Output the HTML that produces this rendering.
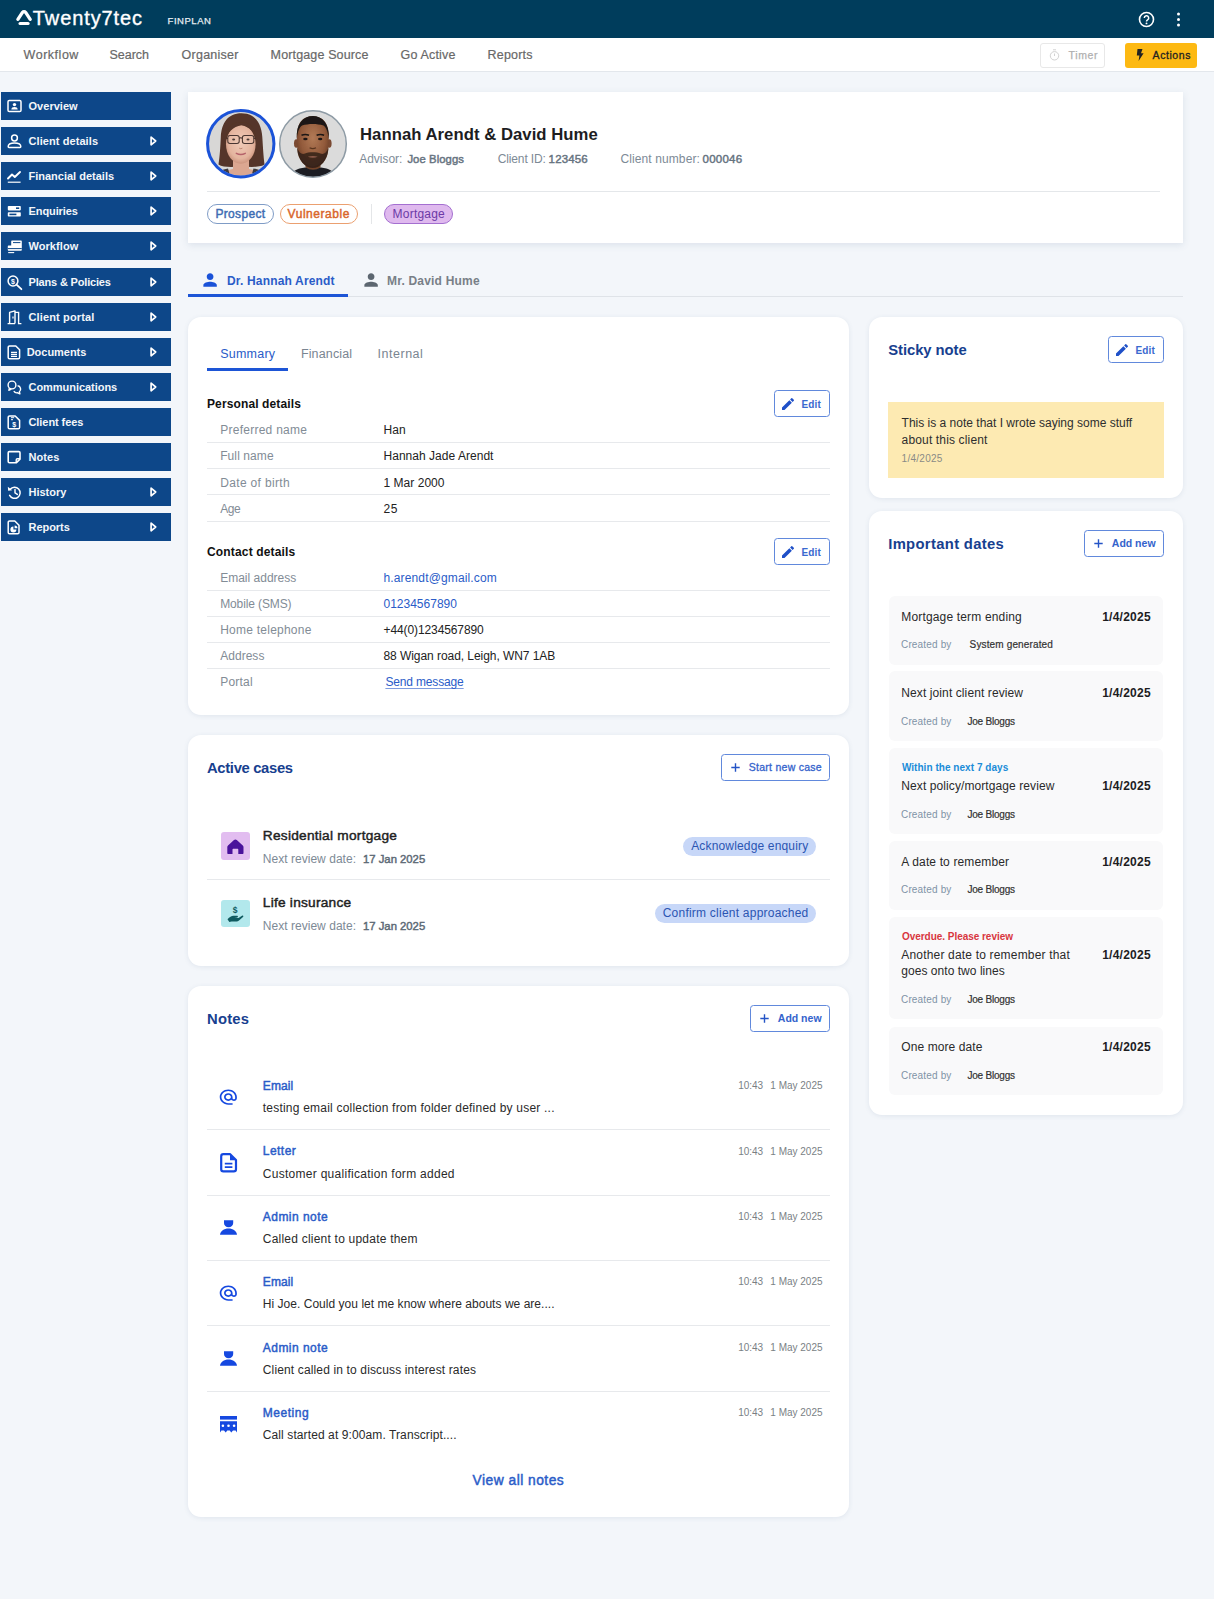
<!DOCTYPE html>
<html lang="en">
<head>
<meta charset="utf-8">
<title>Client overview</title>
<style>
*{box-sizing:border-box;margin:0;padding:0}
html,body{width:1214px;height:1599px;overflow:hidden}
body{background:#f3f6fa;font-family:"Liberation Sans",sans-serif;color:#222;position:relative;font-size:12px}
.t{position:absolute;white-space:nowrap;line-height:1}
svg{display:block;overflow:visible;position:absolute}
.bx{position:absolute}
#top{position:absolute;left:0;top:0;width:1214px;height:38px;background:#003d5c}
#nav{position:absolute;left:0;top:38px;width:1214px;height:34px;background:#fff;border-bottom:1px solid #e3e7ec}
.sb{position:absolute;left:1px;width:170px;height:28px;background:#0d4789}
.card{position:absolute;background:#fff;border-radius:13px;box-shadow:0 1px 5px rgba(60,90,130,.10)}
.btn{position:absolute;border:1.2px solid #6189dc;border-radius:3.5px;background:#fff;height:27px}
.hr{position:absolute;height:1px;background:#e7e9ec}
.pill{position:absolute;border-radius:10px;height:19.5px}
.dbox{position:absolute;left:889px;width:274px;background:#f9f9fa;border-radius:6px}
</style>
</head>
<body>
<header>
<div id="top">
<svg style="left:16px;top:10px" width="16" height="15" viewBox="0 0 16 15"><path d="M1.900 9.300L6.300 2.600Q8.050 .7 9.800 2.600L14.200 9.300" fill="none" stroke="#fff" stroke-width="3.300" stroke-linecap="round" stroke-linejoin="round"/><path d="M4 13.400H12.100" stroke="#fff" stroke-width="3" stroke-linecap="round"/></svg>
<span class="t" style="left:32.8px;top:8.02px;font-size:20px;color:#fff;letter-spacing:0.9px;-webkit-text-stroke:.35px">Twenty7tec</span>
<span class="t" style="left:167.6px;top:16.02px;font-size:9.5px;color:#e6edf2;letter-spacing:0.53px;-webkit-text-stroke:.25px">FINPLAN</span>
<svg style="left:1138px;top:11px" width="17" height="17" viewBox="0 0 17 17"><circle cx="8.500" cy="8.500" r="7" fill="none" stroke="#fff" stroke-width="1.600"/><path d="M6.300 6.900 a2.200 2.200 0 1 1 3.300 1.900 c-.8.500-1.100.9-1.100 1.700" fill="none" stroke="#fff" stroke-width="1.500"/><circle cx="8.500" cy="12.400" r=".950" fill="#fff"/></svg>
<svg style="left:1176px;top:12px" width="5" height="15" viewBox="0 0 5 15"><circle cx="2.500" cy="2" r="1.500" fill="#fff"/><circle cx="2.500" cy="7.500" r="1.500" fill="#fff"/><circle cx="2.500" cy="13" r="1.500" fill="#fff"/></svg>
</div>
</header>
<nav>
<div id="nav"></div>
<span class="t" style="left:23.6px;top:49.02px;font-size:12.5px;color:#686868;letter-spacing:0.52px;-webkit-text-stroke:.2px">Workflow</span>
<span class="t" style="left:109.6px;top:49.02px;font-size:12.5px;color:#686868;letter-spacing:-0.06px;-webkit-text-stroke:.2px">Search</span>
<span class="t" style="left:181.6px;top:49.02px;font-size:12.5px;color:#686868;letter-spacing:0.24px;-webkit-text-stroke:.2px">Organiser</span>
<span class="t" style="left:270.6px;top:49.02px;font-size:12.5px;color:#686868;letter-spacing:0.14px;-webkit-text-stroke:.2px">Mortgage Source</span>
<span class="t" style="left:400.6px;top:49.02px;font-size:12.5px;color:#686868;letter-spacing:0.16px;-webkit-text-stroke:.2px">Go Active</span>
<span class="t" style="left:487.6px;top:49.02px;font-size:12.5px;color:#686868;letter-spacing:0.17px;-webkit-text-stroke:.2px">Reports</span>
<div class="bx" style="left:1040px;top:43px;width:65px;height:25px;border:1px solid #e8e8e8;border-radius:3px;background:#fff"></div>
<svg style="left:1049px;top:49px" width="11" height="12" viewBox="0 0 11 12"><circle cx="5.500" cy="6.800" r="4.200" fill="none" stroke="#d2d2d2" stroke-width="1"/><path d="M4 .8h3M5.500 4.500v2.500" stroke="#d2d2d2" stroke-width="1" fill="none"/></svg>
<span class="t" style="left:1068.6px;top:50.02px;font-size:10.5px;color:#b0b0b0;letter-spacing:0.59px;-webkit-text-stroke:.25px">Timer</span>
<div class="bx" style="left:1125px;top:43px;width:72px;height:25px;border-radius:3px;background:#fdb913"></div>
<svg style="left:1136px;top:49px" width="8" height="12" viewBox="0 0 8 12"><path d="M1.500 0H6.500L5 4.300H7.600L2.600 12L3.400 6.600H.8Z" fill="#222"/></svg>
<span class="t" style="left:1152.6px;top:50.02px;font-size:10.5px;color:#222;letter-spacing:0.56px;-webkit-text-stroke:.3px">Actions</span>
</nav>
<aside>
<div class="sb" style="top:92px"><svg style="left:6px;top:6.500px" width="15" height="15" viewBox="0 0 15 15"><rect x="1" y="1.5" width="13" height="11" rx="1.3" fill="none" stroke="#fff" stroke-width="1.5"/><circle cx="7.5" cy="5.6" r="1.7" fill="#fff"/><path d="M4.3 10.6c0-1.9 1.4-2.6 3.2-2.6s3.2.7 3.2 2.6z" fill="#fff"/></svg>
</div>
<span class="t" style="left:28.5px;top:101.02px;font-size:11px;color:#f3f6fa;font-weight:bold;letter-spacing:0.03px">Overview</span>
<div class="sb" style="top:127px"><svg style="left:6px;top:6.500px" width="15" height="15" viewBox="0 0 15 15"><circle cx="7.5" cy="4" r="2.9" fill="none" stroke="#fff" stroke-width="1.5"/><path d="M1.2 12.6c0-2.6 2.6-3.6 6.3-3.6s6.3 1 6.3 3.6c0 .5-.3.8-.8.8H2c-.5 0-.8-.3-.8-.8z" fill="none" stroke="#fff" stroke-width="1.5"/></svg>
<svg style="left:148.500px;top:9px" width="7" height="10" viewBox="0 0 7 10"><path d="M1.100 1.200L5.700 5L1.100 8.800Z" fill="none" stroke="#fff" stroke-width="1.700" stroke-linejoin="round"/></svg>
</div>
<span class="t" style="left:28.5px;top:136.02px;font-size:11px;color:#f3f6fa;font-weight:bold;letter-spacing:0.08px">Client details</span>
<div class="sb" style="top:162px"><svg style="left:6px;top:6.500px" width="15" height="15" viewBox="0 0 15 15"><path d="M1 9.5L5 5.5L7.8 8L13 3" fill="none" stroke="#fff" stroke-width="1.9" stroke-linejoin="round" stroke-linecap="round"/><path d="M.8 13.2H13.6" stroke="#fff" stroke-width="1.2"/></svg>
<svg style="left:148.500px;top:9px" width="7" height="10" viewBox="0 0 7 10"><path d="M1.100 1.200L5.700 5L1.100 8.800Z" fill="none" stroke="#fff" stroke-width="1.700" stroke-linejoin="round"/></svg>
</div>
<span class="t" style="left:28.5px;top:171.02px;font-size:11px;color:#f3f6fa;font-weight:bold">Financial details</span>
<div class="sb" style="top:197px"><svg style="left:6px;top:6.500px" width="15" height="15" viewBox="0 0 15 15"><rect x=".8" y="2" width="13" height="4.4" rx=".8" fill="#fff"/><rect x=".8" y="8.2" width="13" height="4.4" rx=".8" fill="#fff"/><rect x="9" y="3.4" width="3.2" height="1.6" fill="#0d4789"/><rect x="2.4" y="9.6" width="7" height="1.6" fill="#0d4789"/></svg>
<svg style="left:148.500px;top:9px" width="7" height="10" viewBox="0 0 7 10"><path d="M1.100 1.200L5.700 5L1.100 8.800Z" fill="none" stroke="#fff" stroke-width="1.700" stroke-linejoin="round"/></svg>
</div>
<span class="t" style="left:28.5px;top:206.02px;font-size:11px;color:#f3f6fa;font-weight:bold;letter-spacing:-0.09px">Enquiries</span>
<div class="sb" style="top:232px"><svg style="left:6px;top:6.500px" width="15" height="15" viewBox="0 0 15 15"><path d="M5.2 1.6h8.6c.6 0 1 .4 1 1v8.2c0 .6-.4 1-1 1H1.8c-.6 0-1-.4-1-1V7.4c0-.6.4-1 1-1h2.4V2.6c0-.6.4-1 1-1z" fill="#fff"/><path d="M6 3.6h7.4M.8 9.6h14" stroke="#0d4789" stroke-width="1"/><path d="M1.2 13.6h6" stroke="#fff" stroke-width="1.1"/></svg>
<svg style="left:148.500px;top:9px" width="7" height="10" viewBox="0 0 7 10"><path d="M1.100 1.200L5.700 5L1.100 8.800Z" fill="none" stroke="#fff" stroke-width="1.700" stroke-linejoin="round"/></svg>
</div>
<span class="t" style="left:28.5px;top:241.02px;font-size:11px;color:#f3f6fa;font-weight:bold;letter-spacing:0.06px">Workflow</span>
<div class="sb" style="top:268px"><svg style="left:6px;top:6.500px" width="15" height="15" viewBox="0 0 15 15"><circle cx="6" cy="6" r="4.9" fill="none" stroke="#fff" stroke-width="1.5"/><path d="M9.8 9.8L14.4 14.2" stroke="#fff" stroke-width="1.8" stroke-linecap="round"/><text x="6" y="8.6" font-size="7" font-weight="bold" fill="#fff" text-anchor="middle" font-family="Liberation Sans, sans-serif">$</text></svg>
<svg style="left:148.500px;top:9px" width="7" height="10" viewBox="0 0 7 10"><path d="M1.100 1.200L5.700 5L1.100 8.800Z" fill="none" stroke="#fff" stroke-width="1.700" stroke-linejoin="round"/></svg>
</div>
<span class="t" style="left:28.5px;top:277.02px;font-size:11px;color:#f3f6fa;font-weight:bold;letter-spacing:-0.17px">Plans &amp; Policies</span>
<div class="sb" style="top:303px"><svg style="left:6px;top:6.500px" width="15" height="15" viewBox="0 0 15 15"><path d="M2.6 13.6V2.4L8 .9V13.6" fill="none" stroke="#fff" stroke-width="1.4" stroke-linejoin="round"/><path d="M8 2.4h3.6V13.6h2.8M.6 13.6H8" fill="none" stroke="#fff" stroke-width="1.4"/><path d="M6 6.6v2" stroke="#fff" stroke-width="1.2"/></svg>
<svg style="left:148.500px;top:9px" width="7" height="10" viewBox="0 0 7 10"><path d="M1.100 1.200L5.700 5L1.100 8.800Z" fill="none" stroke="#fff" stroke-width="1.700" stroke-linejoin="round"/></svg>
</div>
<span class="t" style="left:28.5px;top:312.02px;font-size:11px;color:#f3f6fa;font-weight:bold;letter-spacing:0.14px">Client portal</span>
<div class="sb" style="top:338px"><svg style="left:6px;top:6.500px" width="15" height="15" viewBox="0 0 15 15"><path d="M2.6 1h6.2l3.8 3.8v7.6c0 .8-.6 1.4-1.4 1.4H2.6c-.8 0-1.4-.6-1.4-1.4V2.4C1.2 1.600 1.800 1 2.600 1z" fill="none" stroke="#fff" stroke-width="1.5" stroke-linejoin="round"/><path d="M4 7.400h6M4 9.400h6M4 11.300h6" stroke="#fff" stroke-width="1.2"/></svg>
<svg style="left:148.500px;top:9px" width="7" height="10" viewBox="0 0 7 10"><path d="M1.100 1.200L5.700 5L1.100 8.800Z" fill="none" stroke="#fff" stroke-width="1.700" stroke-linejoin="round"/></svg>
</div>
<span class="t" style="left:26.7px;top:347.02px;font-size:11px;color:#f3f6fa;font-weight:bold;letter-spacing:-0.03px">Documents</span>
<div class="sb" style="top:373px"><svg style="left:6px;top:6.500px" width="15" height="15" viewBox="0 0 15 15"><circle cx="5" cy="5" r="3.9" fill="none" stroke="#fff" stroke-width="1.4"/><path d="M2.400 8l-.6 2.400 2.600-1.200" fill="none" stroke="#fff" stroke-width="1.200" stroke-linejoin="round"/><path d="M10.600 5.800a3.400 3.400 0 0 1 1.800 6l.5 2.100-2.300-1.100a3.600 3.600 0 0 1-3.800-1.600" fill="none" stroke="#fff" stroke-width="1.4" stroke-linejoin="round"/></svg>
<svg style="left:148.500px;top:9px" width="7" height="10" viewBox="0 0 7 10"><path d="M1.100 1.200L5.700 5L1.100 8.800Z" fill="none" stroke="#fff" stroke-width="1.700" stroke-linejoin="round"/></svg>
</div>
<span class="t" style="left:28.5px;top:382.02px;font-size:11px;color:#f3f6fa;font-weight:bold;letter-spacing:-0.04px">Communications</span>
<div class="sb" style="top:408px"><svg style="left:6px;top:6.500px" width="15" height="15" viewBox="0 0 15 15"><path d="M2.600 1h5.600l4.400 4.400v7c0 .8-.6 1.4-1.4 1.400H2.600c-.8 0-1.400-.6-1.400-1.400V2.400C1.200 1.600 1.800 1 2.600 1z" fill="none" stroke="#fff" stroke-width="1.500" stroke-linejoin="round"/><path d="M4 2.700h3.200M4 4.700h2" stroke="#fff" stroke-width="1"/><text x="7.200" y="12" font-size="7" font-weight="bold" fill="#fff" text-anchor="middle" font-family="Liberation Sans, sans-serif">$</text></svg>
</div>
<span class="t" style="left:28.5px;top:417.02px;font-size:11px;color:#f3f6fa;font-weight:bold;letter-spacing:-0.07px">Client fees</span>
<div class="sb" style="top:443px"><svg style="left:6px;top:6.500px" width="15" height="15" viewBox="0 0 15 15"><path d="M2.400 1.600h9.400c.7 0 1.200.5 1.200 1.200v6.400l-3.800 3.600H2.400c-.7 0-1.200-.5-1.200-1.200V2.800c0-.7.5-1.200 1.200-1.200z" fill="none" stroke="#fff" stroke-width="1.600" stroke-linejoin="round"/><path d="M13 8.800H10.400c-.7 0-1.200.5-1.200 1.200v2.800" fill="none" stroke="#fff" stroke-width="1.400"/></svg>
</div>
<span class="t" style="left:28.5px;top:452.02px;font-size:11px;color:#f3f6fa;font-weight:bold;letter-spacing:0.08px">Notes</span>
<div class="sb" style="top:478px"><svg style="left:6px;top:6.500px" width="15" height="15" viewBox="0 0 15 15"><path d="M3.200 4.200A5.600 5.600 0 1 1 2.600 10.400" fill="none" stroke="#fff" stroke-width="1.500" stroke-linecap="round"/><path d="M.8 1.800L1.200 5.800L5.200 5.200Z" fill="#fff"/><path d="M8 4.400V7.800L10.400 9.400" fill="none" stroke="#fff" stroke-width="1.400" stroke-linecap="round"/></svg>
<svg style="left:148.500px;top:9px" width="7" height="10" viewBox="0 0 7 10"><path d="M1.100 1.200L5.700 5L1.100 8.800Z" fill="none" stroke="#fff" stroke-width="1.700" stroke-linejoin="round"/></svg>
</div>
<span class="t" style="left:28.5px;top:487.02px;font-size:11px;color:#f3f6fa;font-weight:bold">History</span>
<div class="sb" style="top:513px"><svg style="left:6px;top:6.500px" width="15" height="15" viewBox="0 0 15 15"><path d="M2.600 1h5.200l4.200 4.200v7.200c0 .8-.6 1.400-1.400 1.400H2.600c-.8 0-1.400-.6-1.400-1.400V2.400C1.200 1.600 1.800 1 2.600 1z" fill="none" stroke="#fff" stroke-width="1.500" stroke-linejoin="round"/><path d="M6.400 6.400a3 3 0 1 0 3 3h-3z" fill="#fff"/><path d="M7.600 5.400a2.800 2.800 0 0 1 2.800 2.800H7.600z" fill="#fff"/></svg>
<svg style="left:148.500px;top:9px" width="7" height="10" viewBox="0 0 7 10"><path d="M1.100 1.200L5.700 5L1.100 8.800Z" fill="none" stroke="#fff" stroke-width="1.700" stroke-linejoin="round"/></svg>
</div>
<span class="t" style="left:28.5px;top:522.02px;font-size:11px;color:#f3f6fa;font-weight:bold;letter-spacing:-0.04px">Reports</span>
</aside>
<main>
<section>
<div class="bx" style="left:188px;top:92px;width:995px;height:151px;background:#fff;box-shadow:0 2px 7px rgba(60,90,130,.13)"></div>
<svg style="left:205.800px;top:109.300px" width="69.500" height="69.500" viewBox="0 0 69.500 69.500">
<defs><clipPath id="cp1"><circle cx="34.750" cy="34.750" r="32"/></clipPath>
<radialGradient id="sk1" cx=".5" cy=".45" r=".6"><stop offset="0" stop-color="#f1cbb8"/><stop offset=".7" stop-color="#e4b49e"/><stop offset="1" stop-color="#c48a74"/></radialGradient></defs>
<circle cx="34.750" cy="34.750" r="33" fill="#d8d7d6"/>
<filter id="bl" x="-5%" y="-5%" width="110%" height="110%"><feGaussianBlur stdDeviation=".45"/></filter>
<g clip-path="url(#cp1)"><g filter="url(#bl)">
<path d="M35.500 4.300C22 4.300 15.500 14 14.800 28C14.300 39 13.800 47 12.500 55.500C17 58.500 26 58 35 57.500C45 58 54 58.500 58.500 55.500C57.500 47 57 39 56.300 28C55.500 14 49 4.300 35.500 4.300Z" fill="#553629"/>
<path d="M27 48H43V60C50 61 56 63 60 70H10C14 63 20 61 27 60Z" fill="#dba791"/>
<path d="M8 70C10 63 16 60.500 22 59.500L25 70ZM61.500 70C59.500 63 53.500 60.500 47.500 59.500L44.500 70Z" fill="#3c3a40"/>
<ellipse cx="34.800" cy="35.300" rx="14.800" ry="19.400" fill="url(#sk1)"/>
<path d="M20 31C20 18 26 13 35 13C44 13 49.700 18 49.700 31C48.500 23 44 18 35.500 16.200C27 17.500 21.500 23 20 31Z" fill="#553629"/>
<rect x="21.800" y="26.400" width="11.400" height="8" rx="2.200" fill="#e9c3b0" fill-opacity=".4" stroke="#4a3630" stroke-width="1.050"/>
<rect x="36.400" y="26.400" width="11.400" height="8" rx="2.200" fill="#e9c3b0" fill-opacity=".4" stroke="#4a3630" stroke-width="1.050"/>
<path d="M33.200 29.300Q34.800 28.300 36.400 29.300M20.200 29L21.800 29.500M49.400 29L47.800 29.500" stroke="#3b2a26" stroke-width="1.100" fill="none"/>
<ellipse cx="27.600" cy="30.500" rx="1.500" ry="1" fill="#4a3a36"/><ellipse cx="42" cy="30.500" rx="1.500" ry="1" fill="#4a3a36"/>
<path d="M33.200 39.200Q34.800 40.200 36.400 39.200" stroke="#c08a76" stroke-width="1" fill="none"/>
<path d="M30.300 44.300Q34.800 46.600 39.300 44.300" stroke="#b5626a" stroke-width="1.400" fill="none" stroke-linecap="round"/>
</g></g>
<circle cx="34.750" cy="34.750" r="33.200" fill="none" stroke="#1b53d8" stroke-width="3"/>
</svg>
<svg style="left:279.200px;top:110.200px" width="68" height="68" viewBox="0 0 68 68">
<defs><clipPath id="cp2"><circle cx="34" cy="34" r="33"/></clipPath>
<radialGradient id="sk2" cx=".5" cy=".42" r=".6"><stop offset="0" stop-color="#b27a56"/><stop offset=".65" stop-color="#91593a"/><stop offset="1" stop-color="#653b24"/></radialGradient></defs>
<circle cx="34" cy="34" r="33.300" fill="#dbdbdb"/>
<g clip-path="url(#cp2)"><g filter="url(#bl)">
<path d="M9 70C11 61.500 18 58.500 26 57.500H42C50 58.500 57 61.500 59 70Z" fill="#1d1f24"/>
<path d="M26.500 48H41.500V57.500Q34 62 26.500 57.500Z" fill="#6f4229"/>
<ellipse cx="17.300" cy="33.500" rx="2.300" ry="4.300" fill="#7a4a30"/><ellipse cx="50.300" cy="33.500" rx="2.300" ry="4.300" fill="#7a4a30"/>
<path d="M17.800 27C17.800 12 24.500 6.300 33.800 6.300C43 6.300 49.800 12 49.800 27L49.300 40C48.500 50 41.500 57.800 33.800 57.800C26 57.800 19 50 18.300 40Z" fill="url(#sk2)"/>
<path d="M17.800 29C17 13.500 24 6 33.800 6C43.500 6 50.600 13.500 49.800 29C49 21.500 47 17 44.500 15.500C38 13.500 29.500 13.500 23 15.500C20.500 17 18.600 21.500 17.800 29Z" fill="#1b1614"/>
<path d="M18.200 38C19 50.500 26.300 58 33.800 58C41.300 58 48.600 50.500 49.400 38C47.500 43 44.500 44.800 41.500 43.500C38.500 41.800 29 41.800 26 43.500C23 44.800 20 43 18.200 38Z" fill="#2a1c16" fill-opacity=".78"/>
<path d="M28.800 46.800Q33.800 48.600 38.800 46.800Q33.800 45.300 28.800 46.800Z" fill="#8c5a4a"/>
<path d="M22.500 25.300Q26.200 23.700 30 25.300M37.600 25.300Q41.400 23.700 45.100 25.300" stroke="#1b1614" stroke-width="1.500" fill="none"/>
<ellipse cx="26.400" cy="29" rx="2.200" ry="1.200" fill="#1e1512"/><ellipse cx="41.200" cy="29" rx="2.200" ry="1.200" fill="#1e1512"/>
<path d="M30.600 37.800Q33.800 39.600 37 37.800" stroke="#5a341f" stroke-width="1.300" fill="none"/>
</g></g>
<circle cx="34" cy="34" r="33.300" fill="none" stroke="#8e9ba5" stroke-width="1.500"/>
</svg>
<span class="t" style="left:360px;top:127.02px;font-size:16.7px;color:#1d1d1f;font-weight:bold;letter-spacing:0.04px">Hannah Arendt &amp; David Hume</span>
<span class="t" style="left:359.3px;top:153.02px;font-size:12px;color:#7d8a96;letter-spacing:-0.05px">Advisor:</span>
<span class="t" style="left:407.4px;top:154.02px;font-size:11.3px;color:#66737f;-webkit-text-stroke:.45px;letter-spacing:0.07px">Joe Bloggs</span>
<span class="t" style="left:497.7px;top:153.02px;font-size:12px;color:#7d8a96;letter-spacing:-0.13px">Client ID:</span>
<span class="t" style="left:548.6px;top:154.02px;font-size:11.5px;color:#66737f;-webkit-text-stroke:.45px;letter-spacing:0.16px">123456</span>
<span class="t" style="left:620.5px;top:153.02px;font-size:12px;color:#7d8a96;letter-spacing:0.1px">Client number:</span>
<span class="t" style="left:702.5px;top:154.02px;font-size:11.5px;color:#66737f;-webkit-text-stroke:.45px;letter-spacing:0.24px">000046</span>
<div class="hr" style="left:207px;top:190.500px;width:953px;background:#e4e7ea"></div>
<div class="pill" style="left:207px;top:204.300px;width:66.500px;border:1.300px solid #7f9cc6;background:#fff"></div>
<span class="t" style="left:215.4px;top:208.02px;font-size:12px;color:#3d6db3;-webkit-text-stroke:.45px;letter-spacing:0.35px">Prospect</span>
<div class="pill" style="left:280px;top:204.300px;width:78px;border:1.300px solid #eba070;background:#fff"></div>
<span class="t" style="left:287.6px;top:208.02px;font-size:12px;color:#d9662b;-webkit-text-stroke:.45px;letter-spacing:0.54px">Vulnerable</span>
<div class="bx" style="left:370.500px;top:204px;width:1px;height:20px;background:#e4e6e8"></div>
<div class="pill" style="left:384.300px;top:204.300px;width:69px;border:1.300px solid #a46fd0;background:#dfb9ee"></div>
<span class="t" style="left:392.6px;top:208.02px;font-size:12px;color:#6c3aa6;letter-spacing:0.21px">Mortgage</span>
<div class="hr" style="left:188px;top:296px;width:995px;background:#dfe3e8"></div>
<div class="bx" style="left:188px;top:294px;width:159.500px;height:3px;background:#1d55d6"></div>
<svg style="left:200.400px;top:270.100px" width="20.200" height="20.200" viewBox="0 0 24 24"><path d="M12 12c2.210 0 4-1.790 4-4s-1.790-4-4-4-4 1.790-4 4 1.790 4 4 4zm0 2c-2.670 0-8 1.340-8 4v2h16v-2c0-2.660-5.330-4-8-4z" fill="#1a52d8"/></svg>
<span class="t" style="left:227px;top:275.02px;font-size:12px;color:#2a5cc8;font-weight:bold;letter-spacing:0.17px">Dr. Hannah Arendt</span>
<svg style="left:360.500px;top:270.100px" width="20.200" height="20.200" viewBox="0 0 24 24"><path d="M12 12c2.210 0 4-1.790 4-4s-1.790-4-4-4-4 1.790-4 4 1.790 4 4 4zm0 2c-2.670 0-8 1.340-8 4v2h16v-2c0-2.660-5.330-4-8-4z" fill="#5c6670"/></svg>
<span class="t" style="left:387px;top:275.02px;font-size:12px;color:#787f87;font-weight:bold;letter-spacing:0.2px">Mr. David Hume</span>
</section>
<section>
<div class="card" style="left:188px;top:317px;width:661px;height:398px"></div>
<span class="t" style="left:220.2px;top:348.02px;font-size:12.5px;color:#2a5cc8;letter-spacing:0.24px">Summary</span>
<span class="t" style="left:300.9px;top:348.02px;font-size:12.5px;color:#7a8591;letter-spacing:0.15px">Financial</span>
<span class="t" style="left:377.6px;top:348.02px;font-size:12.5px;color:#7a8591;letter-spacing:0.51px">Internal</span>
<div class="bx" style="left:207.400px;top:367.500px;width:80.700px;height:3px;background:#1d55d6"></div>
<span class="t" style="left:207px;top:398.02px;font-size:12px;color:#111;font-weight:bold;letter-spacing:0.12px">Personal details</span>
<div class="btn" style="left:774px;top:390px;width:56px"></div>
<svg style="left:780.2px;top:395.8px" width="16" height="16" viewBox="0 0 24 24"><path d="M3 17.250V21h3.750L17.810 9.940l-3.750-3.750L3 17.250zM20.710 7.040a1 1 0 0 0 0-1.410l-2.340-2.340a1 1 0 0 0-1.410 0l-1.830 1.830 3.750 3.750 1.830-1.830z" fill="#1f50c8"/></svg>
<span class="t" style="left:801.6px;top:400.02px;font-size:10px;color:#3a69cf;font-weight:bold;letter-spacing:0.1px">Edit</span>
<span class="t" style="left:220.2px;top:424.02px;font-size:12px;color:#828c96;letter-spacing:0.26px">Preferred name</span>
<span class="t" style="left:383.5px;top:424.02px;font-size:12px;color:#222;letter-spacing:0.14px">Han</span>
<div class="hr" style="left:207px;top:441.7px;width:623px"></div>
<span class="t" style="left:220.2px;top:450.02px;font-size:12px;color:#828c96;letter-spacing:0.09px">Full name</span>
<span class="t" style="left:383.5px;top:450.02px;font-size:12px;color:#222;letter-spacing:0.03px">Hannah Jade Arendt</span>
<div class="hr" style="left:207px;top:468.0px;width:623px"></div>
<span class="t" style="left:220.2px;top:477.02px;font-size:12px;color:#828c96;letter-spacing:0.34px">Date of birth</span>
<span class="t" style="left:383.5px;top:477.02px;font-size:12px;color:#222;letter-spacing:0.03px">1 Mar 2000</span>
<div class="hr" style="left:207px;top:494.3px;width:623px"></div>
<span class="t" style="left:220.2px;top:503.02px;font-size:12px;color:#828c96;letter-spacing:-0.48px">Age</span>
<span class="t" style="left:383.5px;top:503.02px;font-size:12px;color:#222;letter-spacing:0.54px">25</span>
<div class="hr" style="left:207px;top:520.6px;width:623px"></div>
<span class="t" style="left:207px;top:546.02px;font-size:12px;color:#111;font-weight:bold;letter-spacing:0.16px">Contact details</span>
<div class="btn" style="left:774px;top:538px;width:56px"></div>
<svg style="left:780.2px;top:543.8px" width="16" height="16" viewBox="0 0 24 24"><path d="M3 17.250V21h3.750L17.810 9.940l-3.750-3.750L3 17.250zM20.710 7.040a1 1 0 0 0 0-1.410l-2.340-2.340a1 1 0 0 0-1.410 0l-1.830 1.830 3.750 3.750 1.830-1.830z" fill="#1f50c8"/></svg>
<span class="t" style="left:801.6px;top:548.02px;font-size:10px;color:#3a69cf;font-weight:bold;letter-spacing:0.1px">Edit</span>
<span class="t" style="left:220.2px;top:572.02px;font-size:12px;color:#828c96">Email address</span>
<span class="t" style="left:383.5px;top:572.02px;font-size:12px;color:#2a5cc8;letter-spacing:0.14px">h.arendt@gmail.com</span>
<div class="hr" style="left:207px;top:589.7px;width:623px"></div>
<span class="t" style="left:220.2px;top:598.02px;font-size:12px;color:#828c96;letter-spacing:-0.12px">Mobile (SMS)</span>
<span class="t" style="left:383.5px;top:598.02px;font-size:12px;color:#2a5cc8">01234567890</span>
<div class="hr" style="left:207px;top:615.9px;width:623px"></div>
<span class="t" style="left:220.2px;top:624.02px;font-size:12px;color:#828c96;letter-spacing:0.24px">Home telephone</span>
<span class="t" style="left:383.5px;top:624.02px;font-size:12px;color:#222;letter-spacing:-0.1px">+44(0)1234567890</span>
<div class="hr" style="left:207px;top:642.1px;width:623px"></div>
<span class="t" style="left:220.2px;top:650.02px;font-size:12px;color:#828c96;letter-spacing:0.03px">Address</span>
<span class="t" style="left:383.5px;top:650.02px;font-size:12px;color:#222;letter-spacing:-0.06px">88 Wigan road, Leigh, WN7 1AB</span>
<div class="hr" style="left:207px;top:668.3px;width:623px"></div>
<span class="t" style="left:220.2px;top:676.02px;font-size:12px;color:#828c96;letter-spacing:0.21px">Portal</span>
<span class="t" style="left:385.4px;top:676.02px;font-size:12px;color:#2a5cc8;letter-spacing:-0.15px;text-decoration:underline;text-underline-offset:1.500px;text-decoration-thickness:.7px;text-decoration-color:#7d9be0">Send message</span>
</section>
<section>
<div class="card" style="left:188px;top:735px;width:661px;height:231px"></div>
<span class="t" style="left:207px;top:761.02px;font-size:14.8px;color:#17408f;font-weight:bold;letter-spacing:-0.33px">Active cases</span>
<div class="btn" style="left:721px;top:754px;width:109px"></div>
<svg style="left:730.8px;top:763.2px" width="9" height="9" viewBox="0 0 9 9"><path d="M4.500 .3V8.700M.3 4.500H8.700" stroke="#2454c6" stroke-width="1.400" fill="none"/></svg>
<span class="t" style="left:748.8px;top:762.02px;font-size:10.5px;color:#3463cc;letter-spacing:0.26px;-webkit-text-stroke:.3px">Start new case</span>
<div class="bx" style="left:220.600px;top:832.400px;width:29px;height:27.200px;border-radius:3px;background:#e2bdf0"></div>
<svg style="left:226.800px;top:838.700px" width="16.800" height="15.200" viewBox="0 0 16.800 15.200"><path d="M8.400 .4c.5 0 1 .2 1.400.6l6 5.400c.5.500.7.900.7 1.500v6c0 .6-.4 1-1 1h-4.200v-4.100c0-.6-.4-1-1-1H6.500c-.6 0-1 .4-1 1v4.100H1.300c-.6 0-1-.4-1-1v-6c0-.6.2-1 .7-1.500l6-5.400c.4-.4.900-.6 1.400-.6z" fill="#4a129b"/></svg>
<span class="t" style="left:262.8px;top:829.02px;font-size:13.7px;color:#222;-webkit-text-stroke:.45px;letter-spacing:0.25px">Residential mortgage</span>
<span class="t" style="left:262.8px;top:853.02px;font-size:12px;color:#7d8a96;letter-spacing:0.03px">Next review date:</span>
<span class="t" style="left:363px;top:854.02px;font-size:11.3px;color:#5d6a76;-webkit-text-stroke:.45px">17 Jan 2025</span>
<div class="pill" style="left:683.300px;top:836.800px;width:133px;height:19.400px;background:#c7d7f8"></div>
<span class="t" style="left:691.2px;top:840.02px;font-size:12px;color:#2b55b2;letter-spacing:0.16px">Acknowledge enquiry</span>
<div class="hr" style="left:207px;top:879.300px;width:623px"></div>
<div class="bx" style="left:220.600px;top:900px;width:29px;height:27.200px;border-radius:3px;background:#b2e8ec"></div>
<svg style="left:226.800px;top:905.600px" width="16.800" height="16.200" viewBox="0 0 16.800 16.200"><text x="8" y="6.900" font-size="8.500" font-weight="bold" fill="#0f5a5f" text-anchor="middle" font-family="Liberation Sans, sans-serif">$</text><path d="M.5 13.300C2.500 11 4.500 9.800 6.500 9.800H10.200C11.200 9.800 11.200 11.300 10.200 11.500L7.500 11.800L11.500 11.900L15 9.700C16.200 9.100 16.900 10.300 16 11.100L12 14.600C11.300 15.200 10.500 15.400 9.600 15.400H4.500L2.300 15.900Z" fill="#0f5a5f"/></svg>
<span class="t" style="left:262.8px;top:896.02px;font-size:13.7px;color:#222;-webkit-text-stroke:.45px;letter-spacing:0.24px">Life insurance</span>
<span class="t" style="left:262.8px;top:920.02px;font-size:12px;color:#7d8a96;letter-spacing:0.03px">Next review date:</span>
<span class="t" style="left:363px;top:921.02px;font-size:11.3px;color:#5d6a76;-webkit-text-stroke:.45px">17 Jan 2025</span>
<div class="pill" style="left:655.200px;top:903.700px;width:161px;height:19.400px;background:#c7d7f8"></div>
<span class="t" style="left:662.7px;top:907.02px;font-size:12px;color:#2b55b2;letter-spacing:0.23px">Confirm client approached</span>
<div class="card" style="left:188px;top:986px;width:661px;height:531px"></div>
<span class="t" style="left:207px;top:1012.02px;font-size:14.8px;color:#17408f;font-weight:bold;letter-spacing:0.22px">Notes</span>
<div class="btn" style="left:750px;top:1005px;width:80px"></div>
<svg style="left:759.8px;top:1014.2px" width="9" height="9" viewBox="0 0 9 9"><path d="M4.500 .3V8.700M.3 4.500H8.700" stroke="#2454c6" stroke-width="1.400" fill="none"/></svg>
<span class="t" style="left:777.8px;top:1013.02px;font-size:10.5px;color:#3463cc;font-weight:bold">Add new</span>
<span class="t" style="left:262.8px;top:1080.02px;font-size:12px;color:#2a5cc8;-webkit-text-stroke:.45px;letter-spacing:0.12px">Email</span>
<span class="t" style="left:262.8px;top:1102.02px;font-size:12px;color:#2a2a2a;letter-spacing:0.21px">testing email collection from folder defined by user ...</span>
<span class="t" style="left:738.2px;top:1081.02px;font-size:10px;color:#7a7f85;letter-spacing:-0.03px">10:43</span>
<span class="t" style="left:770.3px;top:1081.02px;font-size:10px;color:#7a7f85">1 May 2025</span>
<svg style="left:218.400px;top:1087.6px" width="20.600" height="18.200" viewBox="0 0 24 24" preserveAspectRatio="none"><path d="M12 2C6.480 2 2 6.480 2 12s4.480 10 10 10h5v-2h-5c-4.340 0-8-3.660-8-8s3.660-8 8-8 8 3.660 8 8v1.430c0 .79-.710 1.570-1.500 1.570s-1.500-.78-1.500-1.570V12c0-2.760-2.240-5-5-5s-5 2.240-5 5 2.240 5 5 5c1.380 0 2.640-.56 3.540-1.470.65.890 1.770 1.470 2.960 1.470 1.970 0 3.500-1.600 3.500-3.570V12c0-5.520-4.480-10-10-10zm0 13c-1.660 0-3-1.340-3-3s1.340-3 3-3 3 1.340 3 3-1.340 3-3 3z" fill="#1548e0"/></svg>
<div class="hr" style="left:207px;top:1129.1px;width:623px"></div>
<span class="t" style="left:262.8px;top:1145.02px;font-size:12px;color:#2a5cc8;-webkit-text-stroke:.45px;letter-spacing:0.46px">Letter</span>
<span class="t" style="left:262.8px;top:1168.02px;font-size:12px;color:#2a2a2a;letter-spacing:0.28px">Customer qualification form added</span>
<span class="t" style="left:738.2px;top:1147.02px;font-size:10px;color:#7a7f85;letter-spacing:-0.03px">10:43</span>
<span class="t" style="left:770.3px;top:1147.02px;font-size:10px;color:#7a7f85">1 May 2025</span>
<svg style="left:220px;top:1152.6px" width="17.200" height="19.600" viewBox="0 0 17.200 19.600"><path d="M3.400 1.200H10.200L16 7V16.200C16 17.400 15 18.400 13.800 18.400H3.400C2.200 18.400 1.200 17.400 1.200 16.200V3.400C1.200 2.200 2.200 1.200 3.400 1.200Z" fill="none" stroke="#1548e0" stroke-width="2.200" stroke-linejoin="round"/><path d="M10 1.500V7.200H15.800Z" fill="#1548e0"/><path d="M4.800 10.700H12.400M4.800 14.200H12.400" stroke="#1548e0" stroke-width="1.800"/></svg>
<div class="hr" style="left:207px;top:1194.5px;width:623px"></div>
<span class="t" style="left:262.8px;top:1211.02px;font-size:12px;color:#2a5cc8;-webkit-text-stroke:.45px;letter-spacing:0.46px">Admin note</span>
<span class="t" style="left:262.8px;top:1233.02px;font-size:12px;color:#2a2a2a;letter-spacing:0.22px">Called client to update them</span>
<span class="t" style="left:738.2px;top:1212.02px;font-size:10px;color:#7a7f85;letter-spacing:-0.03px">10:43</span>
<span class="t" style="left:770.3px;top:1212.02px;font-size:10px;color:#7a7f85">1 May 2025</span>
<svg style="left:220.200px;top:1220.4px" width="17" height="14.800" viewBox="0 0 17 14.800"><path d="M4 .2H13.200V3C13.200 5.400 11.200 7.200 8.600 7.200C6 7.200 4 5.400 4 3Z" fill="#1548e0"/><path d="M0 14.700C.3 11 4 8.400 8.500 8.400C13 8.400 16.700 11 17 14.700Z" fill="#1548e0"/></svg>
<div class="hr" style="left:207px;top:1259.9px;width:623px"></div>
<span class="t" style="left:262.8px;top:1276.02px;font-size:12px;color:#2a5cc8;-webkit-text-stroke:.45px;letter-spacing:0.12px">Email</span>
<span class="t" style="left:262.8px;top:1298.02px;font-size:12px;color:#2a2a2a;letter-spacing:0.03px">Hi Joe. Could you let me know where abouts we are....</span>
<span class="t" style="left:738.2px;top:1277.02px;font-size:10px;color:#7a7f85;letter-spacing:-0.03px">10:43</span>
<span class="t" style="left:770.3px;top:1277.02px;font-size:10px;color:#7a7f85">1 May 2025</span>
<svg style="left:218.400px;top:1283.8px" width="20.600" height="18.200" viewBox="0 0 24 24" preserveAspectRatio="none"><path d="M12 2C6.480 2 2 6.480 2 12s4.480 10 10 10h5v-2h-5c-4.340 0-8-3.660-8-8s3.660-8 8-8 8 3.660 8 8v1.430c0 .79-.710 1.570-1.500 1.570s-1.500-.78-1.500-1.570V12c0-2.760-2.240-5-5-5s-5 2.240-5 5 2.240 5 5 5c1.380 0 2.640-.56 3.540-1.470.65.890 1.770 1.470 2.960 1.470 1.970 0 3.500-1.600 3.500-3.570V12c0-5.520-4.480-10-10-10zm0 13c-1.660 0-3-1.340-3-3s1.340-3 3-3 3 1.340 3 3-1.340 3-3 3z" fill="#1548e0"/></svg>
<div class="hr" style="left:207px;top:1325.3px;width:623px"></div>
<span class="t" style="left:262.8px;top:1342.02px;font-size:12px;color:#2a5cc8;-webkit-text-stroke:.45px;letter-spacing:0.46px">Admin note</span>
<span class="t" style="left:262.8px;top:1364.02px;font-size:12px;color:#2a2a2a;letter-spacing:0.14px">Client called in to discuss interest rates</span>
<span class="t" style="left:738.2px;top:1343.02px;font-size:10px;color:#7a7f85;letter-spacing:-0.03px">10:43</span>
<span class="t" style="left:770.3px;top:1343.02px;font-size:10px;color:#7a7f85">1 May 2025</span>
<svg style="left:220.200px;top:1351.2px" width="17" height="14.800" viewBox="0 0 17 14.800"><path d="M4 .2H13.200V3C13.200 5.400 11.200 7.200 8.600 7.200C6 7.200 4 5.400 4 3Z" fill="#1548e0"/><path d="M0 14.700C.3 11 4 8.400 8.500 8.400C13 8.400 16.700 11 17 14.700Z" fill="#1548e0"/></svg>
<div class="hr" style="left:207px;top:1390.7px;width:623px"></div>
<span class="t" style="left:262.8px;top:1407.02px;font-size:12px;color:#2a5cc8;-webkit-text-stroke:.45px;letter-spacing:0.52px">Meeting</span>
<span class="t" style="left:262.8px;top:1429.02px;font-size:12px;color:#2a2a2a;letter-spacing:0.1px">Call started at 9:00am. Transcript....</span>
<span class="t" style="left:738.2px;top:1408.02px;font-size:10px;color:#7a7f85;letter-spacing:-0.03px">10:43</span>
<span class="t" style="left:770.3px;top:1408.02px;font-size:10px;color:#7a7f85">1 May 2025</span>
<svg style="left:220.200px;top:1415.8px" width="17" height="16.400" viewBox="0 0 17 16.400"><rect x="0" y="0" width="17" height="3.600" fill="#1548e0"/><path d="M0 5.300H17V16.400L15.600 14.600H13L11.300 16.400H11.200L9.800 14.600H7.200L5.800 16.400H5.700L4 14.600H1.400L0 16.400Z" fill="#1548e0"/><circle cx="2.900" cy="9.700" r="1.300" fill="#fff"/><circle cx="8.500" cy="9.700" r="1.300" fill="#fff"/><circle cx="14.100" cy="9.700" r="1.300" fill="#fff"/></svg>
<span class="t" style="left:472.6px;top:1474.02px;font-size:13.8px;color:#2a5cc8;-webkit-text-stroke:.45px;letter-spacing:0.48px">View all notes</span>
</section>
<section>
<div class="card" style="left:869px;top:317px;width:314px;height:180.500px"></div>
<span class="t" style="left:888.2px;top:343.02px;font-size:14.8px;color:#17408f;font-weight:bold;letter-spacing:-0.04px">Sticky note</span>
<div class="btn" style="left:1108px;top:336px;width:56px"></div>
<svg style="left:1114.2px;top:341.8px" width="16" height="16" viewBox="0 0 24 24"><path d="M3 17.250V21h3.750L17.810 9.940l-3.750-3.750L3 17.250zM20.710 7.040a1 1 0 0 0 0-1.410l-2.340-2.340a1 1 0 0 0-1.410 0l-1.830 1.830 3.750 3.750 1.830-1.830z" fill="#1f50c8"/></svg>
<span class="t" style="left:1135.6px;top:346.02px;font-size:10px;color:#3a69cf;font-weight:bold;letter-spacing:0.1px">Edit</span>
<div class="bx" style="left:888px;top:401.600px;width:276px;height:76.400px;background:#fdeab2"></div>
<span class="t" style="left:901.6px;top:417.02px;font-size:12px;color:#2e2e2e">This is a note that I wrote saying some stuff</span>
<span class="t" style="left:901.6px;top:434.02px;font-size:12px;color:#2e2e2e;letter-spacing:0.15px">about this client</span>
<span class="t" style="left:901.6px;top:454.02px;font-size:10px;color:#8a8a86;letter-spacing:0.27px">1/4/2025</span>
<div class="card" style="left:869px;top:511px;width:314px;height:603.500px"></div>
<span class="t" style="left:888.2px;top:537.02px;font-size:14.8px;color:#17408f;font-weight:bold;letter-spacing:0.33px">Important dates</span>
<div class="btn" style="left:1084px;top:530px;width:80px"></div>
<svg style="left:1093.8px;top:539.2px" width="9" height="9" viewBox="0 0 9 9"><path d="M4.500 .3V8.700M.3 4.500H8.700" stroke="#2454c6" stroke-width="1.400" fill="none"/></svg>
<span class="t" style="left:1111.8px;top:538.02px;font-size:10.5px;color:#3463cc;font-weight:bold">Add new</span>
<div class="dbox" style="top:595.8px;height:69.4px"></div>
<span class="t" style="left:901.3px;top:611.02px;font-size:12px;color:#2a2a2a;letter-spacing:0.16px">Mortgage term ending</span>
<span class="t" style="left:1102.2px;top:611.02px;font-size:12px;color:#1d1d1f;font-weight:bold;letter-spacing:0.24px">1/4/2025</span>
<span class="t" style="left:901px;top:640.02px;font-size:10px;color:#7f93a6;letter-spacing:0.16px">Created by</span>
<span class="t" style="left:969.6px;top:640.02px;font-size:10px;color:#333;letter-spacing:0.14px;-webkit-text-stroke:.2px">System generated</span>
<div class="dbox" style="top:671.4px;height:69.2px"></div>
<span class="t" style="left:901.3px;top:687.02px;font-size:12px;color:#2a2a2a;letter-spacing:0.1px">Next joint client review</span>
<span class="t" style="left:1102.2px;top:687.02px;font-size:12px;color:#1d1d1f;font-weight:bold;letter-spacing:0.24px">1/4/2025</span>
<span class="t" style="left:901px;top:717.02px;font-size:10px;color:#7f93a6;letter-spacing:0.16px">Created by</span>
<span class="t" style="left:967.4px;top:717.02px;font-size:10px;color:#333;letter-spacing:-0.21px;-webkit-text-stroke:.2px">Joe Bloggs</span>
<div class="dbox" style="top:747.8px;height:86.4px"></div>
<span class="t" style="left:901.9px;top:763.02px;font-size:10px;color:#1b8cd8;font-weight:bold;letter-spacing:0.04px">Within the next 7 days</span>
<span class="t" style="left:901.3px;top:780.02px;font-size:12px;color:#2a2a2a;letter-spacing:0.09px">Next policy/mortgage review</span>
<span class="t" style="left:1102.2px;top:780.02px;font-size:12px;color:#1d1d1f;font-weight:bold;letter-spacing:0.24px">1/4/2025</span>
<span class="t" style="left:901px;top:810.02px;font-size:10px;color:#7f93a6;letter-spacing:0.16px">Created by</span>
<span class="t" style="left:967.4px;top:810.02px;font-size:10px;color:#333;letter-spacing:-0.21px;-webkit-text-stroke:.2px">Joe Bloggs</span>
<div class="dbox" style="top:841.4px;height:68.2px"></div>
<span class="t" style="left:901.3px;top:856.02px;font-size:12px;color:#2a2a2a;letter-spacing:0.14px">A date to remember</span>
<span class="t" style="left:1102.2px;top:856.02px;font-size:12px;color:#1d1d1f;font-weight:bold;letter-spacing:0.24px">1/4/2025</span>
<span class="t" style="left:901px;top:885.02px;font-size:10px;color:#7f93a6;letter-spacing:0.16px">Created by</span>
<span class="t" style="left:967.4px;top:885.02px;font-size:10px;color:#333;letter-spacing:-0.21px;-webkit-text-stroke:.2px">Joe Bloggs</span>
<div class="dbox" style="top:917.3px;height:102px"></div>
<span class="t" style="left:901.9px;top:932.02px;font-size:10px;color:#d8363f;font-weight:bold;letter-spacing:-0.03px">Overdue. Please review</span>
<span class="t" style="left:901.3px;top:949.02px;font-size:12px;color:#2a2a2a;letter-spacing:0.18px">Another date to remember that</span>
<span class="t" style="left:901.3px;top:965.02px;font-size:12px;color:#2a2a2a;letter-spacing:0.04px">goes onto two lines</span>
<span class="t" style="left:1102.2px;top:949.02px;font-size:12px;color:#1d1d1f;font-weight:bold;letter-spacing:0.24px">1/4/2025</span>
<span class="t" style="left:901px;top:995.02px;font-size:10px;color:#7f93a6;letter-spacing:0.16px">Created by</span>
<span class="t" style="left:967.4px;top:995.02px;font-size:10px;color:#333;letter-spacing:-0.21px;-webkit-text-stroke:.2px">Joe Bloggs</span>
<div class="dbox" style="top:1026.6px;height:68.6px"></div>
<span class="t" style="left:901.3px;top:1041.02px;font-size:12px;color:#2a2a2a;letter-spacing:0.08px">One more date</span>
<span class="t" style="left:1102.2px;top:1041.02px;font-size:12px;color:#1d1d1f;font-weight:bold;letter-spacing:0.24px">1/4/2025</span>
<span class="t" style="left:901px;top:1071.02px;font-size:10px;color:#7f93a6;letter-spacing:0.16px">Created by</span>
<span class="t" style="left:967.4px;top:1071.02px;font-size:10px;color:#333;letter-spacing:-0.21px;-webkit-text-stroke:.2px">Joe Bloggs</span>
</section>
</main>
</body>
</html>
